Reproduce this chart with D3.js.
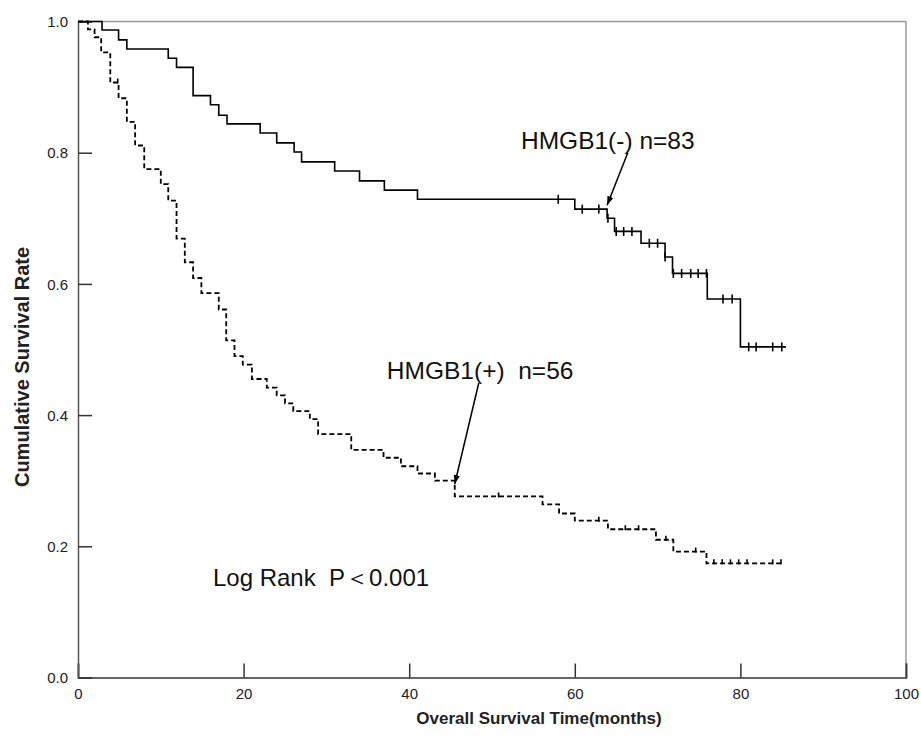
<!DOCTYPE html>
<html>
<head>
<meta charset="utf-8">
<script src="https://cdn.jsdelivr.net/npm/d3@7"></script>
<style>
  body { margin: 0; background: #fff; }
  svg { display: block; font-family: Arial, "Liberation Sans", sans-serif; }
</style>
</head>
<body>
<div id="chart"></div>
<script>
// HMGB1(-) group, solid line: step times (months) and survival after each step
var negTimes = [0, 2.9, 4.9, 5.9, 10.9, 11.9, 13.9, 16.0, 17.0, 18.0, 22.0, 24.0, 26.1, 27.0, 31.0, 34.0, 37.0, 41.0, 60.0, 63.9, 64.8, 68.0, 70.9, 71.8, 76.0, 80.0];
var negSurv  = [1.0, 0.987, 0.972, 0.958, 0.944, 0.930, 0.887, 0.873, 0.857, 0.844, 0.830, 0.815, 0.801, 0.786, 0.772, 0.757, 0.743, 0.729, 0.714, 0.700, 0.680, 0.662, 0.641, 0.616, 0.577, 0.504];
var negEnd = 85.5;
var negCensor = [58.0, 60.9, 62.9, 64.0, 65.0, 65.9, 66.9, 69.0, 70.0, 70.9, 71.9, 72.9, 74.0, 74.9, 75.9, 77.9, 79.0, 81.0, 81.9, 83.9, 85.0];

// HMGB1(+) group, dashed line
var posTimes = [0, 1.2, 2.0, 2.8, 3.9, 4.9, 5.9, 6.9, 8.0, 10.0, 10.9, 11.9, 12.9, 13.9, 14.9, 17.0, 17.9, 18.9, 19.9, 21.0, 22.8, 24.0, 25.0, 26.0, 28.0, 29.0, 33.0, 36.9, 39.0, 41.0, 43.1, 45.5, 56.1, 58.1, 60.0, 64.0, 69.8, 71.9, 75.9];
var posSurv  = [1.0, 0.988, 0.976, 0.953, 0.907, 0.883, 0.847, 0.811, 0.775, 0.752, 0.727, 0.669, 0.633, 0.609, 0.586, 0.561, 0.514, 0.490, 0.477, 0.455, 0.442, 0.430, 0.418, 0.406, 0.394, 0.371, 0.347, 0.335, 0.322, 0.311, 0.300, 0.276, 0.264, 0.250, 0.239, 0.226, 0.210, 0.192, 0.174];
var posEnd = 85.2;
var posCensor = [4.8, 50.8, 62.9, 66.1, 67.7, 71.0, 74.6, 76.8, 77.8, 78.8, 79.8, 80.8, 83.9, 84.9];

// tick labels
var xTicks = [0, 20, 40, 60, 80, 100];
var yTicks = [0.0, 0.2, 0.4, 0.6, 0.8, 1.0];

// annotations in data units
var labels = [
  { text: "HMGB1(-) n=83", t: 53.5, s: 0.806, at: 66.4, as: 0.800, bt: 63.9, bs: 0.720 },
  { text: "HMGB1(+)\u00a0\u00a0n=56", t: 37.3, s: 0.455, at: 48.4, as: 0.449, bt: 45.5, bs: 0.295 }
];
var pText = { text: "Log Rank\u00a0\u00a0P\uff1c0.001", t: 16.3, s: 0.140 };

var W = 921, H = 744;
var margin = { left: 78, right: 906, top: 21.5, bottom: 677.5 };

var x = d3.scaleLinear().domain([0, 100]).range([margin.left, margin.right]);
var y = d3.scaleLinear().domain([0, 1]).range([margin.bottom, margin.top]);

var svg = d3.select("#chart").append("svg")
  .attr("width", W)
  .attr("height", H);

svg.append("defs").append("marker")
  .attr("id", "arrow")
  .attr("viewBox", "0 0 10 10")
  .attr("refX", 10).attr("refY", 5)
  .attr("markerWidth", 9).attr("markerHeight", 9)
  .attr("markerUnits", "userSpaceOnUse")
  .attr("orient", "auto")
  .append("path")
  .attr("d", "M0,1.5 L10,5 L0,8.5 z")
  .attr("fill", "#000");

// frame: top and right in light grey
svg.append("line")
  .attr("x1", x(0)).attr("x2", x(100)).attr("y1", y(1)).attr("y2", y(1))
  .attr("stroke", "#9a9a9a").attr("stroke-width", 1.5);
svg.append("line")
  .attr("x1", x(100)).attr("x2", x(100)).attr("y1", y(1)).attr("y2", y(0))
  .attr("stroke", "#9a9a9a").attr("stroke-width", 1.5);

// axes with inward ticks
var xAxis = svg.append("g")
  .attr("transform", "translate(0," + y(0) + ")")
  .call(d3.axisBottom(x).tickValues(xTicks).tickSize(-14).tickPadding(11).tickFormat(d3.format("d")));
var yAxis = svg.append("g")
  .attr("transform", "translate(" + x(0) + ",0)")
  .call(d3.axisLeft(y).tickValues(yTicks).tickSize(-14).tickPadding(10).tickFormat(d3.format(".1f")));

xAxis.select(".domain").attr("stroke", "#333").attr("stroke-width", 1.5);
yAxis.select(".domain").attr("stroke", "#555").attr("stroke-width", 1.5);
svg.selectAll(".tick line").attr("stroke", "#333").attr("stroke-width", 1.5);
svg.selectAll(".tick text").attr("font-size", "15px").attr("fill", "#222")
  .attr("font-family", "Arial, 'Liberation Sans', sans-serif");
yAxis.selectAll(".tick text").attr("dy", "0.35em");

// axis titles
svg.append("text")
  .attr("x", (x(0) + x(100)) / 2 + 47)
  .attr("y", 724)
  .attr("text-anchor", "middle")
  .attr("font-size", "17px")
  .attr("font-weight", "bold")
  .attr("fill", "#222")
  .text("Overall Survival Time(months)");

svg.append("text")
  .attr("transform", "translate(29," + 367 + ") rotate(-90)")
  .attr("text-anchor", "middle")
  .attr("font-size", "20px")
  .attr("font-weight", "bold")
  .attr("fill", "#222")
  .text("Cumulative Survival Rate");

// survival curves
function stepPoints(times, surv, end) {
  var pts = times.map(function (t, i) { return [t, surv[i]]; });
  pts.push([end, surv[surv.length - 1]]);
  return pts;
}
function survAt(times, surv, t) {
  var i = d3.bisectRight(times, t) - 1;
  return surv[Math.max(0, i)];
}

var line = d3.line()
  .x(function (d) { return x(d[0]); })
  .y(function (d) { return y(d[1]); })
  .curve(d3.curveStepAfter);

svg.append("path")
  .datum(stepPoints(negTimes, negSurv, negEnd))
  .attr("d", line)
  .attr("fill", "none")
  .attr("stroke", "#000")
  .attr("stroke-width", 1.6);

svg.append("path")
  .datum(stepPoints(posTimes, posSurv, posEnd))
  .attr("d", line)
  .attr("fill", "none")
  .attr("stroke", "#000")
  .attr("stroke-width", 1.8)
  .attr("stroke-dasharray", "5,3");

// censor marks
svg.selectAll(".cneg")
  .data(negCensor)
  .enter().append("line")
  .attr("class", "cneg")
  .attr("x1", function (d) { return x(d); })
  .attr("x2", function (d) { return x(d); })
  .attr("y1", function (d) { return y(survAt(negTimes, negSurv, d)) - 4.5; })
  .attr("y2", function (d) { return y(survAt(negTimes, negSurv, d)) + 4.5; })
  .attr("stroke", "#000").attr("stroke-width", 1.6);

svg.selectAll(".cpos")
  .data(posCensor)
  .enter().append("line")
  .attr("class", "cpos")
  .attr("x1", function (d) { return x(d); })
  .attr("x2", function (d) { return x(d); })
  .attr("y1", function (d) { return y(survAt(posTimes, posSurv, d)) - 4; })
  .attr("y2", function (d) { return y(survAt(posTimes, posSurv, d)) + 1; })
  .attr("stroke", "#000").attr("stroke-width", 1.6);

// group labels with arrows
labels.forEach(function (l) {
  svg.append("text")
    .attr("x", x(l.t)).attr("y", y(l.s))
    .attr("font-size", "24.5px")
    .attr("fill", "#111")
    .text(l.text);
  svg.append("line")
    .attr("x1", x(l.at)).attr("y1", y(l.as))
    .attr("x2", x(l.bt)).attr("y2", y(l.bs))
    .attr("stroke", "#000").attr("stroke-width", 1.5)
    .attr("marker-end", "url(#arrow)");
});

svg.append("text")
  .attr("x", x(pText.t)).attr("y", y(pText.s))
  .attr("font-size", "24px")
  .attr("fill", "#111")
  .text(pText.text);
</script>
</body>
</html>
